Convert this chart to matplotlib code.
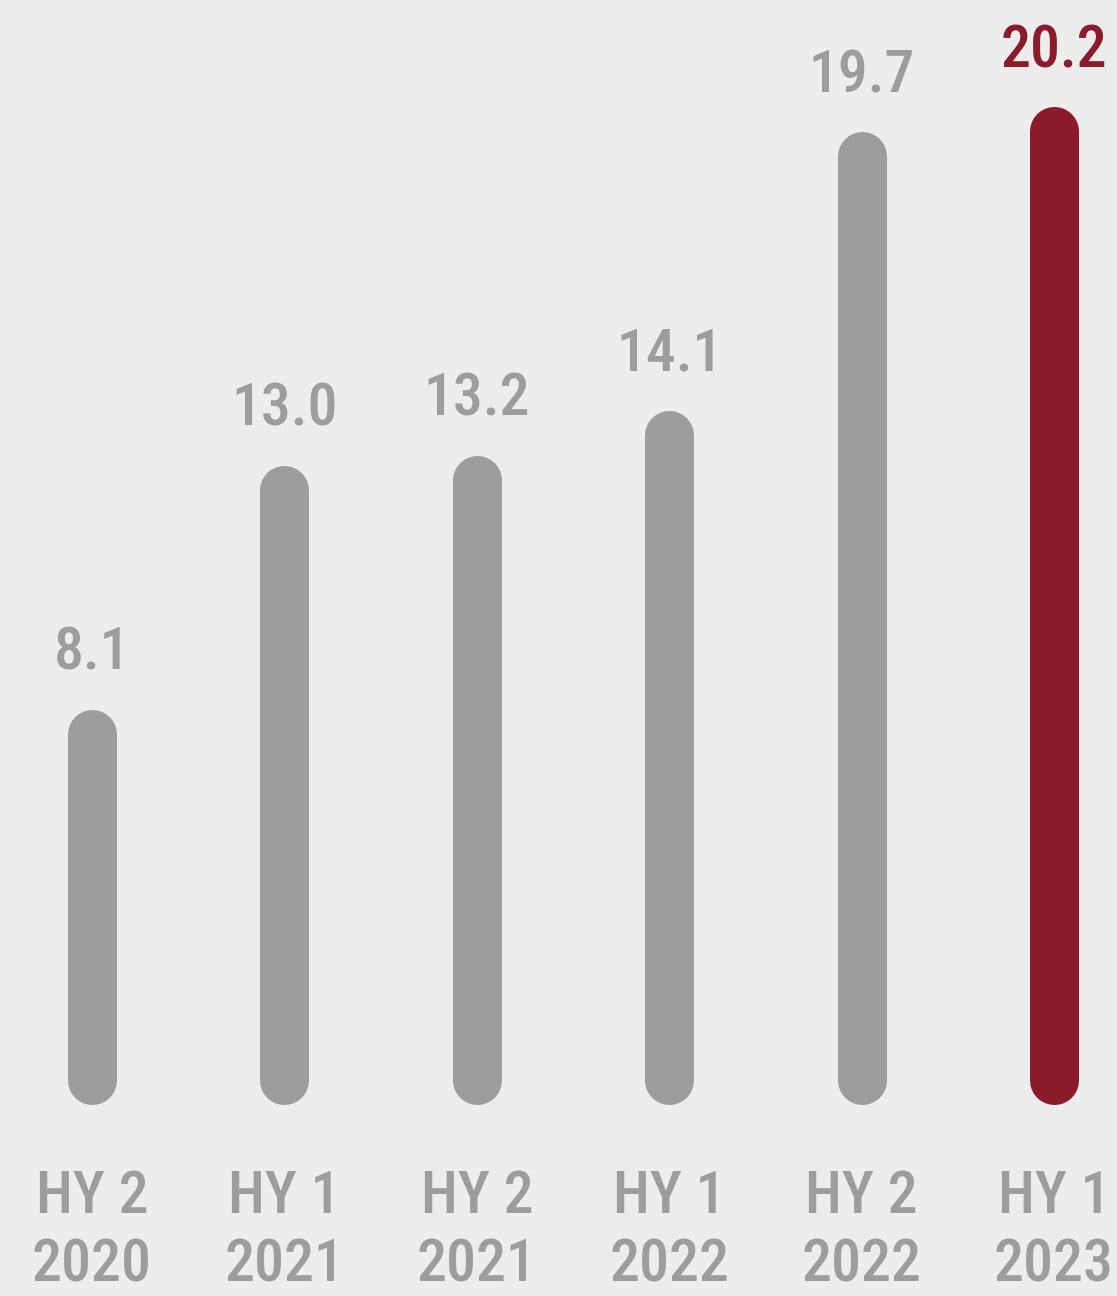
import matplotlib
matplotlib.use("Agg")
import matplotlib.pyplot as plt
from matplotlib import font_manager

# Half-year results
periods = ["HY 2\n2020", "HY 1\n2021", "HY 2\n2021", "HY 1\n2022", "HY 2\n2022", "HY 1\n2023"]
values = [8.1, 13.0, 13.2, 14.1, 19.7, 20.2]
value_labels = ["8.1", "13.0", "13.2", "14.1", "19.7", "20.2"]

GREY = "#9d9d9c"
RED = "#8b1a2a"
BG = "#ededed"

installed = {f.name for f in font_manager.fontManager.ttflist}
family = next((f for f in ["Roboto Condensed", "Liberation Sans Narrow", "Roboto", "DejaVu Sans"]
               if f in installed), "DejaVu Sans")

fig = plt.figure(figsize=(11.17, 12.96), dpi=100, facecolor=BG)
ax = fig.add_axes([0, 0, 1, 1])
ax.set_facecolor(BG)
ax.set_xlim(-0.478, 5.327)
ax.set_ylim(-3.19, 22.83)
ax.axis("off")

bar_floor = 1.14
for i, (v, lab) in enumerate(zip(values, value_labels)):
    color = RED if i == len(values) - 1 else GREY
    ax.plot([i, i], [bar_floor, v], color=color, lw=35.3, solid_capstyle="round")
    ax.annotate(lab, (i, v), xytext=(0, 46), textcoords="offset points",
                ha="center", va="baseline", fontsize=43, color=color,
                family=family, fontweight="medium")
    ax.text(i, -1.88, periods[i], ha="center", va="center", fontsize=43,
            color=GREY, family=family, fontweight="medium", linespacing=1.27)

fig.savefig("out.png", dpi=100, facecolor=BG)
